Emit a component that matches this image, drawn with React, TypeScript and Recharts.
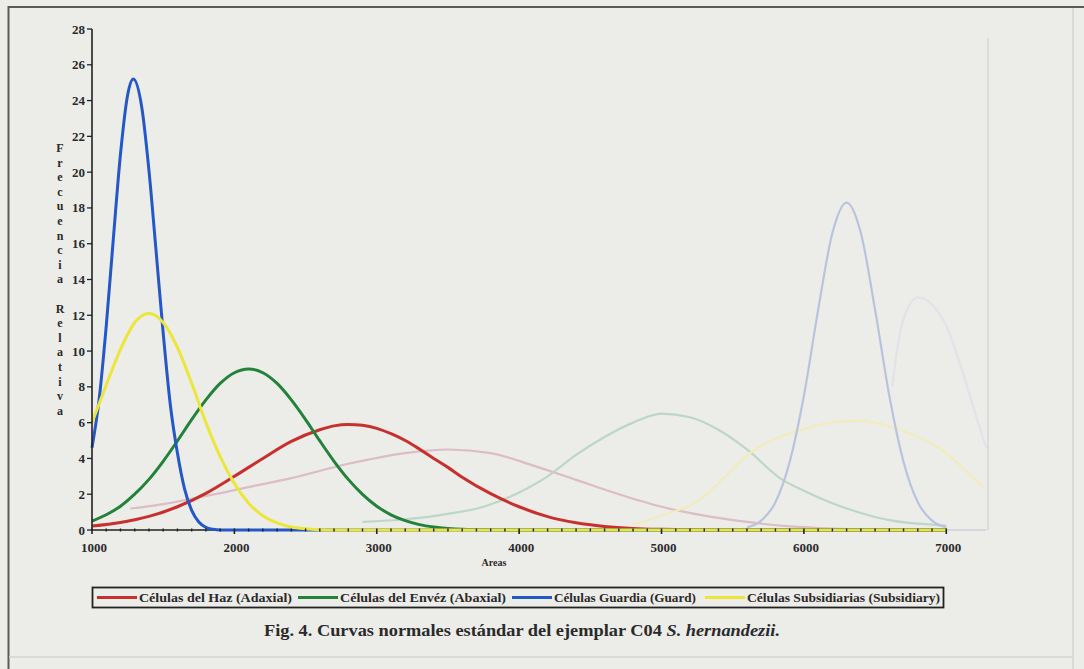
import React from 'react';
import { LineChart, Line, XAxis, YAxis, ReferenceLine } from 'recharts';

// ---- Data (x = Areas, y = Frecuencia Relativa) ----
const hazX = [1000, 1200, 1400, 1600, 1800, 2000, 2200, 2400, 2600, 2700, 2800, 2900, 3000, 3100, 3200, 3300, 3400, 3500, 3600, 3800, 4000, 4200, 4400, 4600, 4800, 5000, 5200, 5400, 5600, 6000, 6500, 7000];
const hazY = [0.22, 0.42, 0.76, 1.3, 2.05, 3.0, 4.0, 4.95, 5.6, 5.82, 5.9, 5.85, 5.68, 5.38, 5.0, 4.52, 4.0, 3.5, 2.95, 2.03, 1.3, 0.75, 0.4, 0.2, 0.09, 0.04, 0.015, 0.005, 0, 0, 0, 0];

const envesX = [1000, 1100, 1200, 1300, 1400, 1500, 1600, 1700, 1800, 1900, 2000, 2100, 2200, 2300, 2400, 2500, 2600, 2700, 2800, 2900, 3000, 3100, 3200, 3300, 3400, 3500, 3600, 3700, 3800, 4000, 5000, 6000, 7000];
const envesY = [0.5, 0.85, 1.33, 2.0, 2.83, 3.84, 4.98, 6.17, 7.27, 8.19, 8.79, 9.0, 8.79, 8.19, 7.27, 6.17, 4.98, 3.84, 2.83, 1.99, 1.33, 0.85, 0.52, 0.3, 0.17, 0.09, 0.04, 0.02, 0.01, 0, 0, 0, 0];

const guardiaX = [1000, 1050, 1100, 1150, 1200, 1250, 1290, 1350, 1400, 1450, 1500, 1550, 1600, 1650, 1700, 1750, 1800, 1850, 1900, 2500, 3000, 4000, 5000, 6000, 7000];
const guardiaY = [4.6, 7.3, 11.4, 16.3, 21.0, 24.3, 25.2, 23.6, 20.1, 15.6, 11.0, 7.0, 4.3, 2.3, 1.1, 0.45, 0.15, 0.04, 0, 0, 0, 0, 0, 0, 0];

const subsX = [1000, 1100, 1200, 1300, 1400, 1500, 1600, 1700, 1800, 1900, 2000, 2100, 2200, 2300, 2400, 2500, 2600, 2700, 3000, 4000, 5000, 6000, 7000];
const subsY = [6.0, 8.1, 10.1, 11.6, 12.1, 11.6, 10.2, 8.2, 6.0, 4.1, 2.6, 1.5, 0.8, 0.4, 0.17, 0.07, 0.02, 0, 0, 0, 0, 0, 0];

// faint curves showing through from the reverse side of the scanned page
const ghostPinkX = [1270, 1500, 1800, 2100, 2400, 2800, 3200, 3500, 3800, 4100, 4400, 4700, 5000, 5300, 5600, 5900, 6200, 6500, 6800];
const ghostPinkY = [1.2, 1.45, 1.9, 2.4, 2.9, 3.7, 4.3, 4.5, 4.3, 3.6, 2.8, 2.0, 1.3, 0.8, 0.45, 0.2, 0.08, 0.03, 0];
const ghostGreenX = [2900, 3200, 3500, 3750, 4000, 4200, 4400, 4600, 4800, 5000, 5200, 5400, 5600, 5850, 6000, 6200, 6400, 6600, 6900, 7000];
const ghostGreenY = [0.45, 0.6, 0.9, 1.3, 2.1, 3.0, 4.2, 5.2, 6.0, 6.5, 6.3, 5.6, 4.5, 2.8, 2.2, 1.5, 0.95, 0.55, 0.3, 0.25];
const ghostBlueX = [5600, 5700, 5800, 5900, 6000, 6100, 6200, 6300, 6400, 6500, 6600, 6700, 6800, 6900, 7000];
const ghostBlueY = [0.14, 0.52, 1.55, 3.8, 7.5, 12.3, 16.6, 18.3, 16.6, 12.3, 7.5, 3.8, 1.55, 0.52, 0.14];
const ghostYellowX = [4800, 5000, 5270, 5450, 5620, 5800, 5980, 6200, 6400, 6600, 6800, 7000, 7150, 7260];
const ghostYellowY = [0.3, 0.8, 1.7, 3.0, 4.3, 5.1, 5.6, 6.0, 6.1, 5.8, 5.2, 4.3, 3.2, 2.4];
const ghostLavX = [6620, 6650, 6700, 6800, 6900, 7000, 7100, 7200, 7280];
const ghostLavY = [8.0, 9.8, 11.8, 13.0, 12.6, 11.4, 9.2, 6.6, 4.6];

const xMajorTicks = [1000, 2000, 3000, 4000, 5000, 6000, 7000];
const yTicks = [0, 2, 4, 6, 8, 10, 12, 14, 16, 18, 20, 22, 24, 26, 28];
const yAxisTitle = 'Frecuencia Relativa';
const xAxisTitle = 'Areas';
const caption = 'Fig. 4. Curvas normales estándar del ejemplar C04 ';
const captionItalic = 'S. hernandezii.';

const pts = (xs: number[], ys: number[]) => xs.map((x, i) => ({ x, y: ys[i] }));

const SERIES = [
  { name: 'Células del Haz (Adaxial)', color: '#c8302e', data: pts(hazX, hazY) },
  { name: 'Células del Envéz (Abaxial)', color: '#23823a', data: pts(envesX, envesY) },
  { name: 'Células Guardia (Guard)', color: '#2457c8', data: pts(guardiaX, guardiaY) },
  { name: 'Células Subsidiarias (Subsidiary)', color: '#ece63a', data: pts(subsX, subsY) },
];

const GHOSTS = [
  { key: 'gp', color: '#dcbcc6', data: pts(ghostPinkX, ghostPinkY) },
  { key: 'gg', color: '#bcd6ca', data: pts(ghostGreenX, ghostGreenY) },
  { key: 'gy', color: '#f0ecbc', data: pts(ghostYellowX, ghostYellowY) },
  { key: 'gl', color: '#e2e2ea', data: pts(ghostLavX, ghostLavY) },
  { key: 'gb', color: '#b9c3de', data: pts(ghostBlueX, ghostBlueY) },
];

const xTicks: number[] = [];
xMajorTicks.forEach((m, i) => {
  xTicks.push(m);
  if (i < xMajorTicks.length - 1) for (let k = 1; k < 10; k++) xTicks.push(m + k * 100);
});

const FONT = "'Liberation Serif', 'Times New Roman', Times, serif";

const XTick = (props: any) => {
  const { x, y, payload } = props;
  const v = payload.value as number;
  const major = v % 1000 === 0;
  return (
    <g>
      <line x1={x} x2={x} y1={y - 1.5} y2={y + (major ? 4 : 1.5)} stroke="#222" strokeWidth={major ? 1.6 : 1.4} />
      {major && (
        <text x={x + 2} y={y + 22} textAnchor="middle" style={{ fontFamily: FONT, fontWeight: 'bold', fontSize: 13 }} fill="#2a2a2a">
          {v}
        </text>
      )}
    </g>
  );
};

const YTick = (props: any) => {
  const { x, y, payload } = props;
  return (
    <text x={x} y={y} dy={4.5} textAnchor="end" style={{ fontFamily: FONT, fontWeight: 'bold', fontSize: 13 }} fill="#2a2a2a">
      {payload.value}
    </text>
  );
};

const txt = (size: number, extra: any = {}) => ({ fontFamily: FONT, fontWeight: 'bold' as const, fontSize: size, ...extra });

export default function App() {
  const legendLineX = [97, 298, 512, 705];
  const legendTextX = [139, 340, 554, 747];
  const legendTextLen = [153, 166, 142, 193];
  return (
    <div style={{ position: 'absolute', left: 0, top: 0, width: 1084, height: 669, background: '#ecece9', overflow: 'hidden' }}>
      <div style={{ position: 'absolute', left: 0, top: 0 }}>
        <LineChart width={1084} height={560} margin={{ top: 29, right: 95, bottom: 0, left: 52 }}>
          <XAxis
            type="number"
            dataKey="x"
            domain={[1000, 7300]}
            ticks={xTicks}
            interval={0}
            axisLine={false}
            tickLine={false}
            tickSize={0}
            tickMargin={0}
            height={30}
            tick={<XTick />}
          />
          <YAxis
            type="number"
            dataKey="y"
            domain={[0, 28]}
            ticks={yTicks}
            interval={0}
            width={40}
            tickSize={5}
            tickMargin={2}
            axisLine={{ stroke: '#222', strokeWidth: 1.6 }}
            tickLine={{ stroke: '#222', strokeWidth: 1.3 }}
            tick={<YTick />}
          />
          <ReferenceLine segment={[{ x: 7000, y: 0 }, { x: 7280, y: 0 }]} stroke="#ccd0da" strokeWidth={1.5} />
          <ReferenceLine segment={[{ x: 7293, y: 0 }, { x: 7293, y: 27.5 }]} stroke="#d6d6d4" strokeWidth={1.5} />
          {GHOSTS.map((g) => (
            <Line key={g.key} data={g.data} dataKey="y" type="monotone" stroke={g.color} strokeWidth={2.2} dot={false} isAnimationActive={false} />
          ))}
          <ReferenceLine segment={[{ x: 1000, y: 0 }, { x: 7000, y: 0 }]} stroke="#222" strokeWidth={1.6} />
          {SERIES.map((s) => (
            <Line key={s.name} name={s.name} data={s.data} dataKey="y" type="monotone" stroke={s.color} strokeWidth={3} dot={false} isAnimationActive={false} />
          ))}
        </LineChart>
      </div>
      <svg width={1084} height={669} style={{ position: 'absolute', left: 0, top: 0, pointerEvents: 'none' }}>
        {/* page frame */}
        <line x1={8.5} x2={8.5} y1={6} y2={669} stroke="#5a5a5a" strokeWidth={2} />
        <line x1={8} x2={1084} y1={7} y2={7} stroke="#5a5a5a" strokeWidth={2} />
        <line x1={1073} x2={1073} y1={8} y2={669} stroke="#d4d4d2" strokeWidth={1.5} />
        <line x1={9} x2={1073} y1={657} y2={657} stroke="#d4d4d2" strokeWidth={1.5} />
        {/* stacked y-axis title */}
        {yAxisTitle.split('').map((ch, i) => (
          <text key={i} x={60} y={148 + i * 14.6} textAnchor="middle" dominantBaseline="central" style={txt(12)} fill="#2a2a2a">
            {ch}
          </text>
        ))}
        <text x={494} y={566} textAnchor="middle" style={txt(10)} fill="#2a2a2a">
          {xAxisTitle}
        </text>
        {/* legend */}
        <rect x={92.5} y={587.5} width={851} height={20} fill="none" stroke="#222" strokeWidth={1.8} />
        {SERIES.map((s, i) => (
          <g key={s.name}>
            <line x1={legendLineX[i]} x2={legendLineX[i] + 40} y1={597.5} y2={597.5} stroke={s.color} strokeWidth={3} />
            <text x={legendTextX[i]} y={601.5} textLength={legendTextLen[i]} lengthAdjust="spacingAndGlyphs" style={txt(12)} fill="#2a2a2a">
              {s.name}
            </text>
          </g>
        ))}
        {/* caption */}
        <text x={264} y={636} textLength={516} lengthAdjust="spacingAndGlyphs" style={txt(16)} fill="#2a2a2a">
          {caption}
          <tspan fontStyle="italic">{captionItalic}</tspan>
        </text>
      </svg>
    </div>
  );
}
